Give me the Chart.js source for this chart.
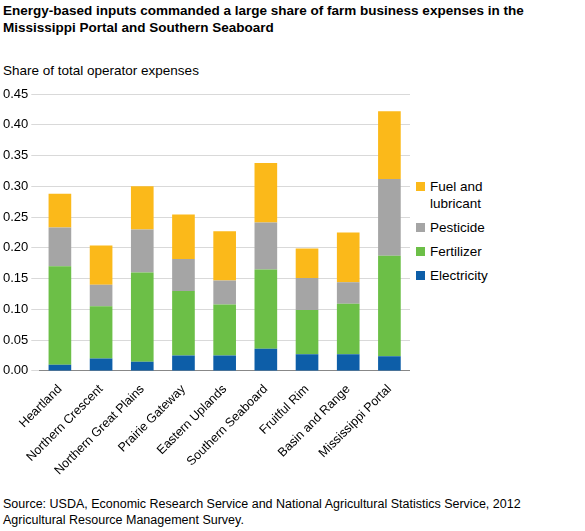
<!DOCTYPE html>
<html><head><meta charset="utf-8">
<script src="https://cdn.jsdelivr.net/npm/chart.js@4"></script>
<style>
body{margin:0;width:585px;height:531px;font-family:"Liberation Sans",Arial,sans-serif;position:relative;background:#fff;color:#000}
#t{position:absolute;left:3px;top:2px;font-weight:bold;font-size:13.5px;line-height:17px;width:580px}
#s{position:absolute;left:3px;top:63px;font-size:13.5px}
#c{position:absolute;left:0;top:82px;width:410px;height:399px}
#lg{position:absolute;left:416px;top:178px;font-size:13.5px}
.li{display:flex;align-items:flex-start;margin-bottom:7px;line-height:17px}
.bx{width:9px;height:9px;margin:4px 5px 0 0;flex:none}
#src{position:absolute;left:3px;top:496px;font-size:12.5px;line-height:16px}
</style></head><body>
<div id="t">Energy-based inputs commanded a large share of farm business expenses in the Mississippi Portal and Southern Seaboard</div>
<div id="s">Share of total operator expenses</div>
<div id="c"><canvas id="cv"></canvas></div>
<div id="lg">
<div class="li"><div class="bx" style="background:#fbb91a"></div><div>Fuel and<br>lubricant</div></div>
<div class="li"><div class="bx" style="background:#a5a5a5"></div><div>Pesticide</div></div>
<div class="li"><div class="bx" style="background:#6cbf47"></div><div>Fertilizer</div></div>
<div class="li"><div class="bx" style="background:#0d5ea8"></div><div>Electricity</div></div>
</div>
<div id="src">Source: USDA, Economic Research Service and National Agricultural Statistics Service, 2012<br>Agricultural Resource Management Survey.</div>
<script>
const categories=["Heartland","Northern Crescent","Northern Great Plains","Prairie Gateway","Eastern Uplands","Southern Seaboard","Fruitful Rim","Basin and Range","Mississippi Portal"];
const electricity=[0.010,0.020,0.015,0.025,0.025,0.036,0.027,0.027,0.024];
const fertilizer=[0.160,0.085,0.145,0.105,0.083,0.129,0.072,0.082,0.163];
const pesticide=[0.063,0.035,0.070,0.052,0.039,0.076,0.052,0.035,0.125];
const fuel=[0.055,0.064,0.070,0.072,0.080,0.097,0.048,0.081,0.110];
const yTicks=[0,0.05,0.10,0.15,0.20,0.25,0.30,0.35,0.40,0.45];
const mk=(l,d,c)=>({label:l,data:d,backgroundColor:c,barPercentage:0.55,categoryPercentage:1});
new Chart(document.getElementById('cv'),{type:'bar',
data:{labels:categories,datasets:[mk('Electricity',electricity,'#0d5ea8'),mk('Fertilizer',fertilizer,'#6cbf47'),mk('Pesticide',pesticide,'#a5a5a5'),mk('Fuel and lubricant',fuel,'#fbb91a')]},
options:{responsive:true,maintainAspectRatio:false,animation:false,
layout:{padding:{top:12,right:0,left:0}},
plugins:{legend:{display:false},tooltip:{enabled:false}},
scales:{x:{stacked:true,grid:{display:false},border:{color:'#888'},ticks:{color:'#000',font:{size:12.5,family:'Liberation Sans'},maxRotation:45,minRotation:45,autoSkip:false}},
y:{stacked:true,min:0,max:0.45,afterBuildTicks:a=>{a.ticks=yTicks.map(v=>({value:v}))},grid:{color:'#d9d9d9'},border:{display:false},ticks:{color:'#000',font:{size:13,family:'Liberation Sans'},callback:v=>v.toFixed(2)}}}}});
</script></body></html>
